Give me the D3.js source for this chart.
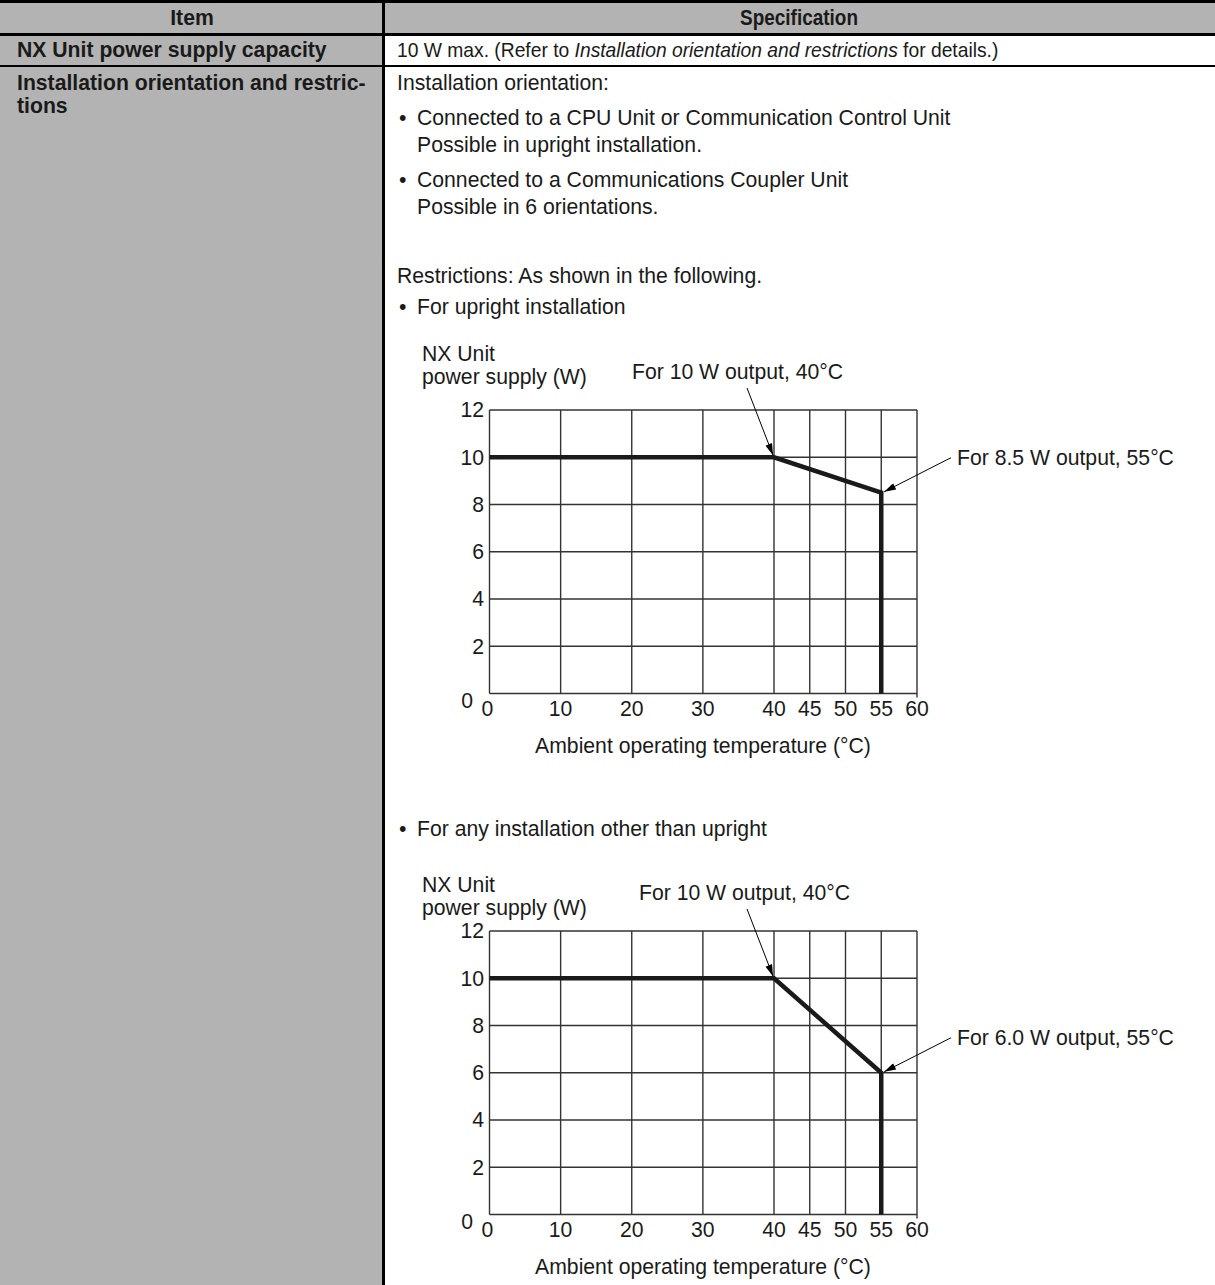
<!DOCTYPE html>
<html>
<head>
  <meta charset="UTF-8">
  <title>NX Unit power supply capacity</title>
  <script src="https://cdn.jsdelivr.net/npm/d3@7/dist/d3.min.js"></script>
  <style>
    body { margin: 0; background: #fff; }
    svg text { font-family: "Liberation Sans", Arial, sans-serif; fill: #1a1a1a; }
  </style>
</head>
<body>
  <svg id="page" width="1215" height="1285"></svg>
  <script>
  // ---------------- data ----------------
  const xTicks = [0, 10, 20, 30, 40, 45, 50, 55, 60];
  const yTicks = [0, 2, 4, 6, 8, 10, 12];
  // upright installation
  const uprightTemp = [0, 40, 55, 55];
  const uprightPower = [10, 10, 8.5, 0];
  // any other installation
  const otherTemp = [0, 40, 55, 55];
  const otherPower = [10, 10, 6.0, 0];
  const uprightNotes = ["For 10 W output, 40°C", "For 8.5 W output, 55°C"];
  const otherNotes = ["For 10 W output, 40°C", "For 6.0 W output, 55°C"];

  const gray = "#b3b3b3";
  const FS = 21.2;
  const svg = d3.select("#page");

  // ---------------- table ----------------
  svg.append("rect").attr("x", 0).attr("y", 0).attr("width", 1215).attr("height", 35).attr("fill", gray);
  svg.append("rect").attr("x", 0).attr("y", 35).attr("width", 384).attr("height", 1250).attr("fill", gray);

  function hline(y, w) {
    svg.append("line").attr("x1", 0).attr("x2", 1215).attr("y1", y).attr("y2", y)
      .attr("stroke", "#000").attr("stroke-width", w);
  }
  hline(1.5, 3);
  hline(34.5, 3);
  hline(66, 2);
  svg.append("line").attr("x1", 383.5).attr("x2", 383.5).attr("y1", 0).attr("y2", 1285)
    .attr("stroke", "#000").attr("stroke-width", 3);

  function txt(x, y, s, opts) {
    opts = opts || {};
    const t = svg.append("text").attr("x", x).attr("y", y).attr("dy", "0.35em")
      .attr("font-size", opts.size || FS)
      .attr("font-weight", opts.bold ? "bold" : "normal")
      .attr("text-anchor", opts.anchor || "start")
      .text(s);
    if (opts.len) t.attr("textLength", opts.len).attr("lengthAdjust", "spacingAndGlyphs");
    return t;
  }

  txt(192, 18, "Item", { bold: true, anchor: "middle" });
  txt(799, 18, "Specification", { bold: true, anchor: "middle", len: 118 });
  txt(17, 50, "NX Unit power supply capacity", { bold: true });
  txt(17, 83, "Installation orientation and restric-", { bold: true });
  txt(17, 106, "tions", { bold: true });

  // this row is set in a narrower face in the original, so squeeze it a bit
  const cap = svg.append("g").attr("transform", "translate(397,50) scale(0.94,1)")
    .append("text").attr("x", 0).attr("y", 0).attr("dy", "0.35em")
    .attr("font-size", 20.5);
  cap.append("tspan").text("10 W max. (Refer to ");
  cap.append("tspan").attr("font-style", "italic").text("Installation orientation and restrictions");
  cap.append("tspan").text(" for details.)");

  txt(397, 83, "Installation orientation:");
  txt(399, 118, "•");
  txt(417, 118, "Connected to a CPU Unit or Communication Control Unit");
  txt(417, 145, "Possible in upright installation.");
  txt(399, 180, "•");
  txt(417, 180, "Connected to a Communications Coupler Unit");
  txt(417, 207, "Possible in 6 orientations.");
  txt(397, 276, "Restrictions: As shown in the following.");
  txt(399, 307, "•");
  txt(417, 307, "For upright installation");
  txt(399, 829, "•");
  txt(417, 829, "For any installation other than upright");

  // ---------------- charts ----------------
  svg.append("defs").append("marker")
    .attr("id", "head")
    .attr("viewBox", "0 0 10 6")
    .attr("refX", 10).attr("refY", 3)
    .attr("markerWidth", 14).attr("markerHeight", 7)
    .attr("markerUnits", "userSpaceOnUse")
    .attr("orient", "auto")
    .append("path").attr("d", "M0,0 L10,3 L0,6 z").attr("fill", "#000");

  // x axis is compressed above 40 °C
  const x = d3.scaleLinear().domain([0, 40, 60]).range([489.5, 774, 917]);

  function drawChart(top, temps, powers, notes, titleY, noteX) {
    const y = d3.scaleLinear().domain([0, 12]).range([top + 283.5, top]);
    const g = svg.append("g");

    // grid
    g.selectAll(".vg").data(xTicks).enter().append("line")
      .attr("x1", d => x(d)).attr("x2", d => x(d))
      .attr("y1", y(12)).attr("y2", d => d == 60 ? y(0) + 4 : y(0))
      .attr("stroke", "#333").attr("stroke-width", 1.4);
    g.selectAll(".hg").data(yTicks).enter().append("line")
      .attr("x1", x(0)).attr("x2", x(60))
      .attr("y1", d => y(d)).attr("y2", d => y(d))
      .attr("stroke", "#333").attr("stroke-width", 1.4);

    // tick labels
    g.selectAll(".yl").data(yTicks).enter().append("text")
      .attr("x", d => d == 0 ? 473 : 484)
      .attr("y", d => d == 0 ? y(0) + 7 : y(d))
      .attr("dy", "0.35em").attr("text-anchor", "end").attr("font-size", FS)
      .text(d => d);
    g.selectAll(".xl").data(xTicks).enter().append("text")
      .attr("x", d => x(d) + (d == 0 ? -2 : 0))
      .attr("y", y(0) + 15)
      .attr("dy", "0.35em").attr("text-anchor", "middle").attr("font-size", FS)
      .text(d => d);

    g.append("text").attr("x", 703).attr("y", y(0) + 52).attr("dy", "0.35em")
      .attr("text-anchor", "middle").attr("font-size", FS)
      .text("Ambient operating temperature (°C)");
    g.append("text").attr("x", 422).attr("y", titleY[0]).attr("dy", "0.35em")
      .attr("font-size", FS).text("NX Unit");
    g.append("text").attr("x", 422).attr("y", titleY[1]).attr("dy", "0.35em")
      .attr("font-size", FS).text("power supply (W)");

    // derating curve
    const pts = temps.map((t, i) => [t, powers[i]]);
    g.append("path")
      .attr("d", d3.line().x(d => x(d[0])).y(d => y(d[1]))(pts))
      .attr("fill", "none").attr("stroke", "#1a1a1a").attr("stroke-width", 4.5)
      .attr("stroke-linejoin", "miter");

    // callouts
    g.append("text").attr("x", noteX).attr("y", top - 38).attr("dy", "0.35em")
      .attr("font-size", FS).text(notes[0]);
    g.append("line")
      .attr("x1", 747).attr("y1", top - 22)
      .attr("x2", x(temps[1]) - 1).attr("y2", y(powers[1]) - 2)
      .attr("stroke", "#000").attr("stroke-width", 1).attr("marker-end", "url(#head)");
    g.append("text").attr("x", 957).attr("y", y(powers[2]) - 35).attr("dy", "0.35em")
      .attr("font-size", FS).text(notes[1]);
    g.append("line")
      .attr("x1", 951).attr("y1", y(powers[2]) - 35)
      .attr("x2", x(temps[2]) + 3).attr("y2", y(powers[2]) - 1)
      .attr("stroke", "#000").attr("stroke-width", 1).attr("marker-end", "url(#head)");
  }

  drawChart(410, uprightTemp, uprightPower, uprightNotes, [354, 377], 632);
  drawChart(931, otherTemp, otherPower, otherNotes, [885, 908], 639);
  </script>
</body>
</html>
